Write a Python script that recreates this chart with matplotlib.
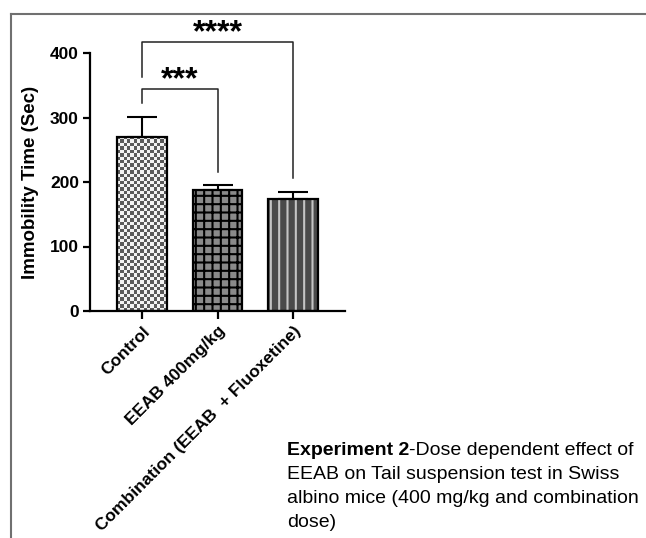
import numpy as np
import matplotlib
matplotlib.use('Agg')
import matplotlib.pyplot as plt
from matplotlib.lines import Line2D

plt.rcParams['font.family'] = ['Liberation Sans', 'DejaVu Sans']
plt.rcParams['hatch.linewidth'] = 1.5

# data
groups = ['Control', 'EEAB 400mg/kg', 'Combination (EEAB  + Fluoxetine)']
means = [270, 187, 173]
sem = [31, 8, 12]

# significance brackets: (group a, group b, bracket height, leg a bottom, leg b bottom, label)
brackets = [
    (0, 1, 344, 322, 215, '***'),
    (0, 2, 417, 363, 206, '****'),
]

caption_bold = 'Experiment 2'
caption_rest = ['-Dose dependent effect of',
                'EEAB on Tail suspension test in Swiss',
                'albino mice (400 mg/kg and combination',
                'dose)']

W, H = 646, 538
fig = plt.figure(figsize=(W / 100, H / 100), dpi=100)
ax = fig.add_axes([90 / W, 1 - 311 / H, 255 / W, 258 / H])

x = np.arange(len(groups))
width = 0.66

# Control: checkerboard fill
x0 = x[0] - width / 2
ny = int(round(means[0] * 0.645 / 3.4))
nx = 15
checker = (np.add.outer(np.arange(ny), np.arange(nx)) % 2).astype(float)
ax.imshow(checker, extent=[x0, x0 + width, 0, means[0]], aspect='auto',
          cmap='gray', vmin=-0.6, vmax=1.08, interpolation='nearest', zorder=2)

# EEAB: grey with black grid
ax.bar(x[1], means[1], width, color='#8a8a8a', edgecolor='black', hatch='++', linewidth=0, zorder=2)
# Combination: dark with light vertical lines
ax.bar(x[2], means[2], width, color='#4a4a4a', edgecolor='#c4c4c4', hatch='||', linewidth=0, zorder=2)

# outlines
ax.bar(x, means, width, color='none', edgecolor='black', linewidth=1.6, zorder=3)

ax.errorbar(x, means, yerr=[np.zeros(len(sem)), sem], fmt='none', ecolor='black',
            elinewidth=1.5, capsize=11, capthick=1.5, zorder=1)

for a, b, h, la, lb, label in brackets:
    ax.plot([x[a], x[a], x[b], x[b]], [la, h, h, lb], color='#222222', lw=1.1,
            clip_on=False, zorder=4)
    ax.text((x[a] + x[b]) / 2, h + 1, label, ha='center', va='baseline',
            fontsize=23, fontweight='bold', clip_on=False)

ax.set_xlim(-0.69, 2.69)
ax.set_ylim(0, 400)
ax.set_yticks([0, 100, 200, 300, 400])
ax.set_xticks(x)
ax.set_xticklabels(groups, rotation=45, ha='right', va='top', rotation_mode='anchor',
                   fontsize=12.5, fontweight='bold')
for lbl in ax.get_yticklabels():
    lbl.set_fontweight('bold')
    lbl.set_fontsize(12.5)

for side in ['top', 'right']:
    ax.spines[side].set_visible(False)
for side in ['left', 'bottom']:
    ax.spines[side].set_linewidth(1.6)
ax.tick_params(axis='y', length=5, width=1.6, pad=3)
ax.tick_params(axis='x', length=6, width=1.6, pad=3)

ax.set_ylabel('Immobility Time (Sec)', fontsize=13.5, fontweight='bold', labelpad=8)

# caption
y0 = 1 - 455 / H
t = fig.text(287 / W, y0, caption_bold, fontsize=14, fontweight='bold', va='baseline')
fig.canvas.draw()
bb = t.get_window_extent()
fig.text(bb.x1 / W, y0, caption_rest[0], fontsize=14, va='baseline')
for i, line in enumerate(caption_rest[1:]):
    fig.text(287 / W, 1 - (455 + 24 * (i + 1)) / H, line, fontsize=14, va='baseline')

# grey frame lines
fig.add_artist(Line2D([11 / W, 11 / W], [0, 1 - 14 / H], color='#707070', lw=1.5))
fig.add_artist(Line2D([11 / W, 1], [1 - 14 / H, 1 - 14 / H], color='#707070', lw=1.5))

fig.savefig('out.png', dpi=100)
